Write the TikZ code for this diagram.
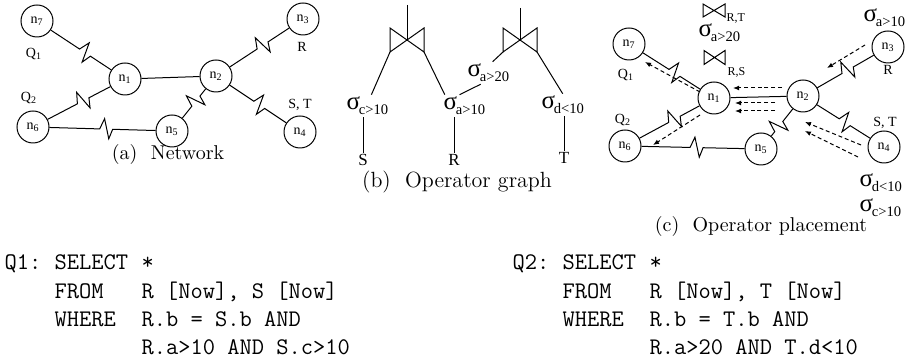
\documentclass[tikz,border=0pt]{standalone}
\usepackage{fontspec}
\newfontfamily\tf{Liberation Serif}
\usetikzlibrary{calc,arrows.meta}
\newcommand\sigop[1]{{\fontsize{12.5}{13}\selectfont σ}\kern-0.6pt\raisebox{-2.3pt}{\fontsize{7.3}{8}\selectfont #1}}
\newcommand\zigedge[3]{%
  \coordinate (zm) at ($(#1)!#3!(#2)$);
  \coordinate (za) at ($(zm)!-3.5pt!(#2)$);
  \coordinate (zd) at ($(zm)!3pt!(#2)$);
  \coordinate (zp) at ($(zm)!5pt!90:(#2)$);
  \coordinate (zq) at ($(zm)!5pt!-90:(#2)$);
  \coordinate (zb) at ($(zp)!-1.2pt!(#2)$);
  \coordinate (zc) at ($(zq)!1.2pt!(#2)$);
  \draw (#1) -- (za) -- (zb) -- (zc) -- (zd) -- (#2);
}
\newcommand\bowtieat[3]{\draw[shift={(#1)}] (-#2,-#3) -- (-#2,#3) -- (#2,-#3) -- (#2,#3) -- cycle;}
\tikzset{
  nd/.style={circle,draw,minimum size=16pt,inner sep=0pt,font=\tf\fontsize{7}{8}\selectfont},
  lbl/.style={inner sep=1pt,font=\tf\fontsize{7}{8}\selectfont},
  biglbl/.style={inner sep=0.5pt,font=\tf\fontsize{8.5}{9}\selectfont},
  sublbl/.style={inner sep=0pt,anchor=base west,font=\tf\fontsize{6}{7}\selectfont},
  sigl/.style={inner sep=1pt,anchor=base west,font=\tf},
  captxt/.style={inner sep=0pt,anchor=base,font=\fontsize{10}{12}\selectfont},
  sqltxt/.style={inner sep=0pt,anchor=base west,font=\ttfamily\fontsize{11.9}{14}\selectfont},
  flowarr/.style={dash pattern=on 2pt off 1.4pt,-{Latex[length=3pt,width=2.4pt]}},
}
\begin{document}
\begin{tikzpicture}[x=0.5pt,y=-0.5pt,line width=0.5pt]
\useasboundingbox (0,0) rectangle (913,362);
% ---------------- (a) Network
\node[nd] (a7) at (37,21) {n\textsubscript{7}};
\node[nd] (a1) at (125,79) {n\textsubscript{1}};
\node[nd] (a2) at (216,76) {n\textsubscript{2}};
\node[nd] (a3) at (303,19) {n\textsubscript{3}};
\node[nd] (a4) at (300,132) {n\textsubscript{4}};
\node[nd] (a5) at (172,131) {n\textsubscript{5}};
\node[nd] (a6) at (33,127) {n\textsubscript{6}};
\node[lbl] (aQ1) at (34,54) {Q\textsubscript{1}};
\node[lbl] (aQ2) at (29,98) {Q\textsubscript{2}};
\node[lbl] (aR) at (302,47) {R};
\node[lbl] (aST) at (300,105) {S, T};
\draw (a1) -- (a2);
\zigedge{a7}{a1}{0.55}
\zigedge{a6}{a1}{0.55}
\zigedge{a6}{a5}{0.53}
\zigedge{a5}{a2}{0.55}
\zigedge{a2}{a3}{0.54}
\zigedge{a2}{a4}{0.52}
\node[captxt] (capa) at (168,160) {(a)~~Network};
% ---------------- (b) Operator graph
\coordinate (Lc) at (407,40); \coordinate (Ltop) at (407,5);
\coordinate (Lbl) at (390,52); \coordinate (Lbr) at (424,52);
\coordinate (Rc) at (520,40); \coordinate (Rtop) at (520,8);
\coordinate (Rbl) at (503,52); \coordinate (Rbr) at (537,52);
\bowtieat{Lc}{17}{12}
\bowtieat{Rc}{17}{12}
\draw (Ltop) -- (Lc);
\draw (Rtop) -- (Rc);
\node[sigl] (bsc) at (344,110) {\sigop{c>10}};
\node[sigl] (bsa10) at (441,110) {\sigop{a>10}};
\node[sigl] (bsd) at (539,109) {\sigop{d<10}};
\node[sigl] (bsa20) at (465,77) {\sigop{a>20}};
\node[biglbl] (bS) at (363,160) {S};
\node[biglbl] (bR) at (454,160) {R};
\node[biglbl] (bT) at (564,158) {T};
\draw (Lbl) -- (bsc.70);
\draw (Lbr) -- (bsa10.150);
\draw (bsa10.113) -- (bsa20.236);
\draw (bsa20.69) -- (Rbl);
\draw (Rbr) -- (bsd.north);
\draw (bS) -- (bS |- bsc.south);
\draw (bR) -- (bR |- bsa10.south);
\draw (bT) -- (bT |- bsd.south);
\node[captxt,font=\fontsize{11}{13}\selectfont] (capb) at (457,188) {(b)~~Operator graph};
% ---------------- (c) Operator placement
\node[nd] (c7) at (629,44) {n\textsubscript{7}};
\node[nd] (c1) at (714,98) {n\textsubscript{1}};
\node[nd] (c2) at (803,96) {n\textsubscript{2}};
\node[nd] (c3) at (888,47) {n\textsubscript{3}};
\node[nd] (c4) at (884,147) {n\textsubscript{4}};
\node[nd] (c5) at (761,149) {n\textsubscript{5}};
\node[nd] (c6) at (625,146) {n\textsubscript{6}};
\node[lbl] (cQ1) at (626,75) {Q\textsubscript{1}};
\node[lbl] (cQ2) at (623,120) {Q\textsubscript{2}};
\node[lbl] (cR) at (888,70) {R};
\node[lbl] (cST) at (885,123) {S, T};
\draw (c1) -- (c2);
\zigedge{c7}{c1}{0.54}
\zigedge{c6}{c1}{0.56}
\zigedge{c6}{c5}{0.53}
\zigedge{c5}{c2}{0.43}
\zigedge{c2}{c3}{0.53}
\zigedge{c2}{c4}{0.52}
\coordinate (bt1) at (714,10.5);
\coordinate (bt2) at (714.5,57.5);
\bowtieat{bt1}{11}{6.5}
\bowtieat{bt2}{10.5}{7}
\node[sublbl] (lRT) at (726,22) {R,T};
\node[sublbl] (lRS) at (727,76) {R,S};
\node[sigl] (csa20) at (696,37) {\sigop{a>20}};
\node[sigl] (csa10) at (861,22) {\sigop{a>10}};
\node[sigl] (csd) at (857,187) {\sigop{d<10}};
\node[sigl] (csc) at (857,212) {\sigop{c>10}};
\coordinate (f1a) at (700,92); \coordinate (f1b) at (645,62);
\coordinate (f2a) at (700,115); \coordinate (f2b) at (653,145);
\coordinate (f3a) at (865,45); \coordinate (f3b) at (827,68);
\coordinate (f4a) at (782,88); \coordinate (f4b) at (733,88);
\coordinate (f5a) at (775,103); \coordinate (f5b) at (735,103);
\coordinate (f6a) at (775,111); \coordinate (f6b) at (735,111);
\coordinate (f7a) at (861,145); \coordinate (f7b) at (805,122);
\coordinate (f8a) at (858,157); \coordinate (f8b) at (805,131);
\foreach \k in {1,...,8} {\draw[flowarr] (f\k a) -- (f\k b);}
\node[captxt] (capc) at (761,232) {(c)~~Operator placement};
% ---------------- queries
\node[sqltxt] (q1a) at (4,270) {Q1:};
\node[sqltxt] (q1b) at (54,270) {SELECT};
\node[sqltxt] (q1c) at (141,270) {*};
\node[sqltxt] (q1d) at (54,299) {FROM};
\node[sqltxt] (q1e) at (141,299) {R [Now], S [Now]};
\node[sqltxt] (q1f) at (54,327) {WHERE};
\node[sqltxt] (q1g) at (141,327) {R.b = S.b AND};
\node[sqltxt] (q1h) at (141,354) {R.a>10 AND S.c>10};
\node[sqltxt] (q2a) at (512,270) {Q2:};
\node[sqltxt] (q2b) at (562,270) {SELECT};
\node[sqltxt] (q2c) at (649,270) {*};
\node[sqltxt] (q2d) at (562,299) {FROM};
\node[sqltxt] (q2e) at (649,299) {R [Now], T [Now]};
\node[sqltxt] (q2f) at (562,327) {WHERE};
\node[sqltxt] (q2g) at (649,327) {R.b = T.b AND};
\node[sqltxt] (q2h) at (649,354) {R.a>20 AND T.d<10};
\end{tikzpicture}
\end{document}
